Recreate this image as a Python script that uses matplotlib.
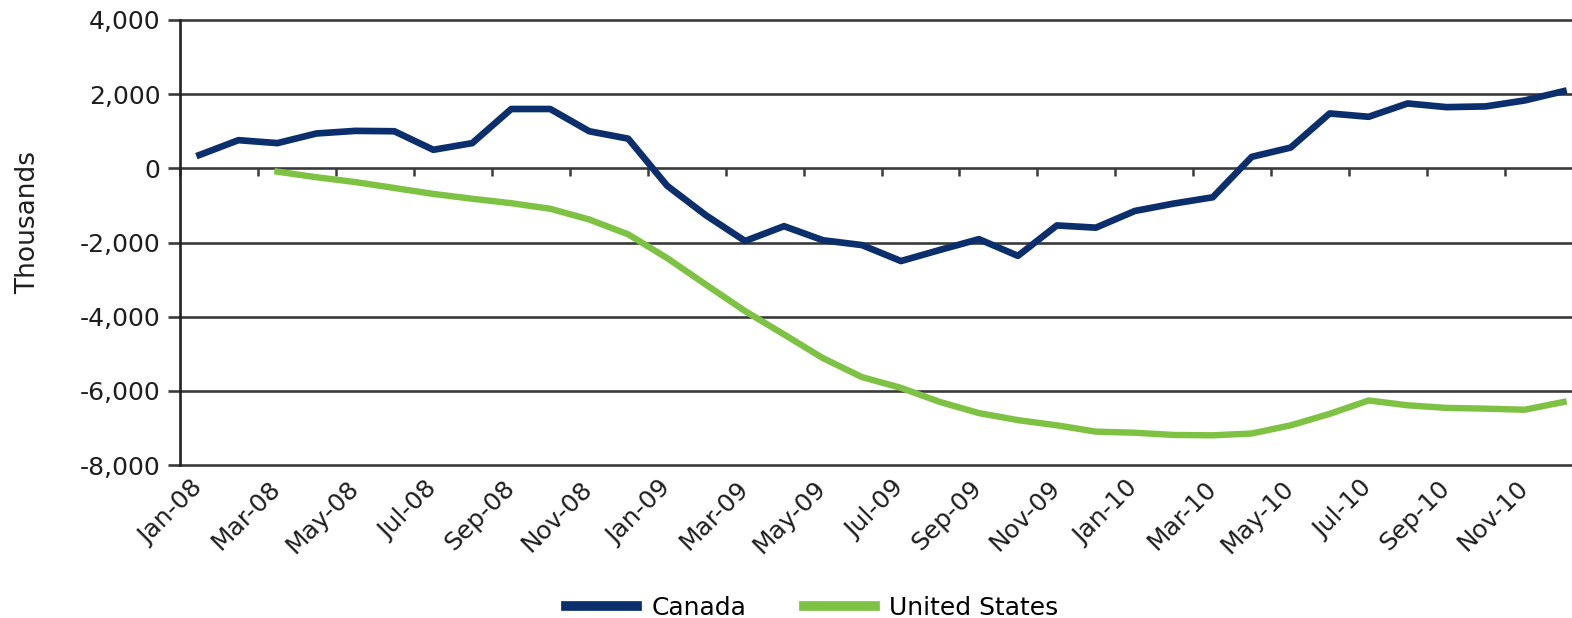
import numpy as np
import matplotlib
matplotlib.use("Agg")
import matplotlib.pyplot as plt
import matplotlib.transforms as mtransforms
from matplotlib.markers import TICKDOWN

plt.rcParams["font.family"] = ["DejaVu Sans"]

# monthly change since Jan-08, thousands
months = ["Jan-08", "Feb-08", "Mar-08", "Apr-08", "May-08", "Jun-08",
          "Jul-08", "Aug-08", "Sep-08", "Oct-08", "Nov-08", "Dec-08",
          "Jan-09", "Feb-09", "Mar-09", "Apr-09", "May-09", "Jun-09",
          "Jul-09", "Aug-09", "Sep-09", "Oct-09", "Nov-09", "Dec-09",
          "Jan-10", "Feb-10", "Mar-10", "Apr-10", "May-10", "Jun-10",
          "Jul-10", "Aug-10", "Sep-10", "Oct-10", "Nov-10", "Dec-10"]

canada = [360, 760, 680, 940, 1010, 1000,
          500, 680, 1600, 1600, 1000, 800,
          -470, -1270, -1960, -1560, -1940, -2070,
          -2500, -2200, -1910, -2360, -1540, -1600,
          -1150, -950, -780, 310, 560, 1480,
          1390, 1750, 1650, 1670, 1830, 2080]

united_states = [np.nan, np.nan, -90, -240, -370, -530,
                 -690, -820, -940, -1090, -1380, -1780,
                 -2420, -3140, -3850, -4480, -5120, -5630,
                 -5920, -6300, -6600, -6790, -6930, -7100,
                 -7130, -7190, -7200, -7150, -6930, -6620,
                 -6260, -6390, -6460, -6480, -6510, -6300]

y_ticks = [-8000, -6000, -4000, -2000, 0, 2000, 4000]

navy = "#0b2f6c"
green = "#7dc242"
grid_col = "#3a3a3a"
text_col = "#1e1e1e"

fig = plt.figure(figsize=(15.72, 6.18), dpi=100)
ax = fig.add_axes([180 / 1572, 153 / 618, 1403 / 1572, 445 / 618])

x = np.arange(len(months))
ax.set_xlim(-0.5, len(months) - 0.5)
ax.set_ylim(y_ticks[0], y_ticks[-1])

# horizontal grid
for yv in y_ticks:
    ax.axhline(yv, color=grid_col, lw=1.9, zorder=1, clip_on=False)

# tick marks on the zero line, every second category boundary
bounds = np.arange(-0.5, len(months), 2)
ax.plot(bounds, np.zeros_like(bounds), linestyle="none", marker=TICKDOWN,
        markersize=6, markeredgewidth=1.8, color=grid_col, zorder=2,
        clip_on=False)

ax.plot(x, canada, color=navy, lw=4.8, label="Canada", zorder=3)
ax.plot(x, united_states, color=green, lw=4.6, label="United States",
        zorder=3)

for side in ["top", "right", "bottom"]:
    ax.spines[side].set_visible(False)
ax.spines["left"].set_color("#222222")
ax.spines["left"].set_linewidth(1.9)

ax.set_yticks(y_ticks)
ax.set_yticklabels([f"{v:,}" for v in y_ticks], fontsize=18, color=text_col)
ax.tick_params(axis="y", direction="out", length=9, width=1.9,
               color=grid_col, pad=5)

ax.set_xticks(x[::2])
ax.set_xticklabels(months[::2], rotation=45, ha="right", va="top",
                   rotation_mode="anchor", fontsize=18, color=text_col)
ax.tick_params(axis="x", length=0, pad=8)
shift = mtransforms.ScaledTranslation(-9 / 100, 0, fig.dpi_scale_trans)
for lbl in ax.get_xticklabels():
    lbl.set_transform(lbl.get_transform() + shift)

ax.set_ylabel("Thousands", fontsize=19, color=text_col)
ax.yaxis.set_label_coords(-0.099, 0.546)

fig.legend(loc="lower center", bbox_to_anchor=(812 / 1572, -0.04),
           ncol=2, frameon=False, fontsize=18, handlelength=2.85,
           handletextpad=0.55, columnspacing=2.3)
for line in fig.legends[0].get_lines():
    line.set_linewidth(7)

fig.savefig("out.png", dpi=100)
